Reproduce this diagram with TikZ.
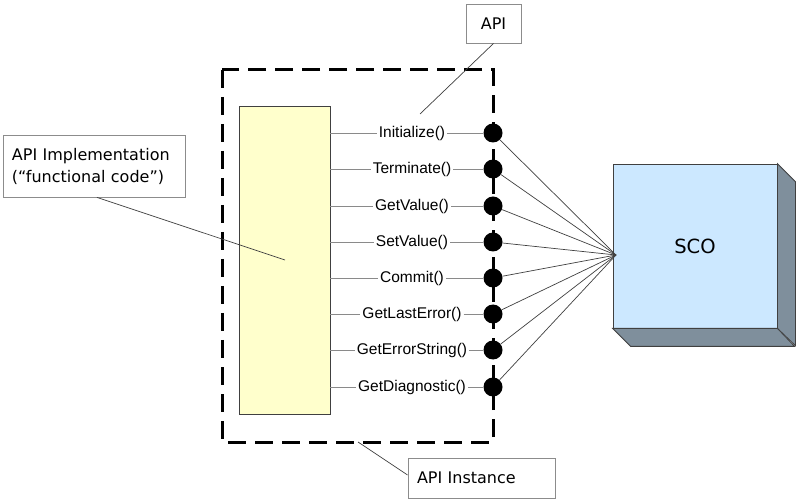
\documentclass[tikz,border=0pt]{standalone}
\usepackage{fontspec}
\setmainfont{Liberation Sans}
\newfontfamily\dvfont{DejaVu Sans}
\usetikzlibrary{calc}
\definecolor{implfill}{HTML}{FFFFCC}
\definecolor{scofront}{HTML}{CCE8FF}
\definecolor{scoside}{HTML}{7F8F9C}
\definecolor{boxgray}{HTML}{8C8C8C}
\definecolor{linegray}{HTML}{8A8A8A}
\definecolor{fangray}{HTML}{404040}
\tikzset{
  implbox/.style={draw=fangray, line width=0.8pt, fill=implfill, minimum width=91pt, minimum height=308pt, inner sep=0pt},
  instdash/.style={line width=3pt, dash pattern=on 18pt off 9pt},
  funclabel/.style={inner sep=2pt, font=\fontsize{15.5}{18}\selectfont},
  rowline/.style={draw=linegray, line width=0.9pt},
  apidot/.style={circle, fill=black, minimum size=19pt, inner sep=0pt},
  fanline/.style={draw=fangray, line width=0.7pt},
  callout/.style={draw=boxgray, line width=0.9pt, fill=white, inner sep=0pt, font=\dvfont\fontsize{16}{22}\selectfont},
  calloutline/.style={draw=fangray, line width=0.7pt},
  scobox/.style={draw=fangray, line width=0.8pt, fill=scofront, minimum width=164pt, minimum height=164pt, inner sep=0pt, font=\dvfont\fontsize{19.5}{22}\selectfont},
  scosidestyle/.style={draw=fangray, line width=0.8pt, fill=scoside}
}
\begin{document}
\begin{tikzpicture}[x=1pt,y=-1pt]
\useasboundingbox (0,0) rectangle (800,502);
\fill[white] (0,0) rectangle (800,502);

% implementation block
\node[implbox] (impl) at (284.5,260) {};

% API instance dashed frame
\draw[instdash] (222,70) rectangle (493,442);

% SCO
\node[scobox] (sco) at (695,246) {SCO};
\draw[scosidestyle] (sco.north east) -- ++(18,18) -- ++(0,164) -- (sco.south east) -- cycle;
\draw[scosidestyle] (sco.south west) -- ++(18,18) -- ++(164,0) -- (sco.south east) -- cycle;
\coordinate (scoin) at (616,255);

% API functions
\foreach \n/\y/\t in {1/133/Initialize(), 2/169/Terminate(), 3/206/GetValue(), 4/242/SetValue(), 5/278/Commit(), 6/314/GetLastError(), 7/350/GetErrorString(), 8/387/GetDiagnostic()}{
  \node[funclabel] (l\n) at (412,\y) {\t};
  \node[apidot] (d\n) at (493,\y) {};
  \draw[rowline] (impl.east |- l\n) -- (l\n.west);
  \draw[rowline] (l\n.east) -- (d\n);
  \draw[fanline] (d\n) -- (scoin);
}

% callouts
\node[callout, minimum width=55pt, minimum height=39pt] (api) at (493.5,23.5) {API};
\coordinate (apitip) at (420,114);
\draw[calloutline] (api.south) -- (apitip);

\node[callout, minimum width=182pt, minimum height=62pt, align=left, text width=164pt] (implcall) at (94,166) {API Implementation\\(“functional code”)};
\coordinate (impltip) at (285,260);
\draw[calloutline] ([xshift=3pt]implcall.south) -- (impltip);

\node[callout, minimum width=147pt, minimum height=40pt, align=left, text width=129pt] (inst) at (481.5,478) {API Instance};
\coordinate (insttip) at (358,442);
\draw[calloutline] ([yshift=3pt]inst.west) -- (insttip);
\end{tikzpicture}
\end{document}
